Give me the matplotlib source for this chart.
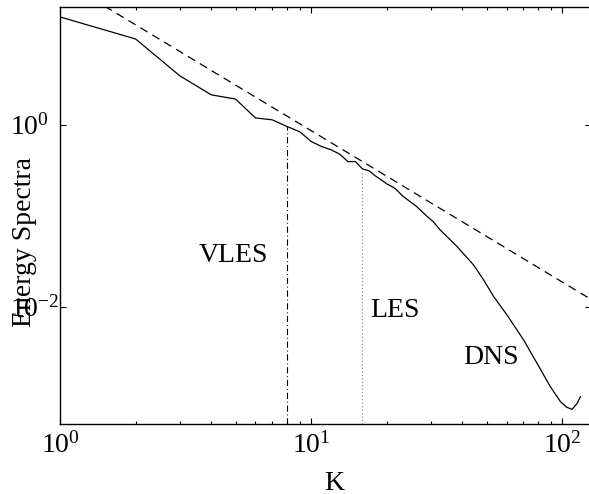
import matplotlib
matplotlib.use('Agg')
import matplotlib.pyplot as plt
from matplotlib.ticker import FixedLocator, LogLocator, NullFormatter, NullLocator

# energy spectrum
k = [1, 2, 3, 4, 5, 6, 7, 8, 9, 10, 11, 12, 13, 14, 15, 16, 17, 18, 19, 20,
     21.5, 23.3, 26.3, 28.5, 30.6, 32.6, 38.1, 44.3, 48.6, 53.3, 60.2, 70.1,
     79.3, 89.6, 98.3, 104, 109.3, 114.5, 118]
energy = [15.4, 8.8, 3.46, 2.14, 1.92, 1.19, 1.135, 0.96, 0.84, 0.655, 0.577,
          0.531, 0.475, 0.394, 0.394, 0.327, 0.312, 0.274, 0.248, 0.224,
          0.201, 0.162, 0.126, 0.102, 0.086, 0.0698, 0.0457, 0.0287, 0.0196,
          0.01285, 0.00807, 0.00429, 0.00237, 0.00131, 0.000897, 0.00078,
          0.00074, 0.00086, 0.00102]

# -5/3 reference line, two end points
ref_k = [1, 130]
ref_e = [40, 0.012]

# cut-off wavenumbers
vles_k = 8
les_k = 16

x_ticks = [1, 10, 100]
x_labels = [r'$10^{0}$', r'$10^{1}$', r'$10^{2}$']
y_ticks = [1e-2, 1e0]
y_labels = [r'$10^{-2}$', r'$10^{0}$']

regions = ['VLES', 'LES', 'DNS']
region_pos = [(3.56, 0.0312), (17.1, 0.00762), (40.2, 0.00233)]

plt.rcParams['font.family'] = ['Liberation Serif', 'DejaVu Serif']
plt.rcParams['mathtext.fontset'] = 'custom'
plt.rcParams['mathtext.rm'] = 'Liberation Serif'
plt.rcParams['mathtext.it'] = 'Liberation Serif:italic'
plt.rcParams['font.size'] = 20
plt.rcParams['lines.scale_dashes'] = False

fig = plt.figure(figsize=(5.89, 4.94), dpi=100)
ax = fig.add_axes([60 / 589, 1 - 424 / 494, 531 / 589, 417 / 494])

ymin, ymax = 5.1e-4, 19.8

ax.plot(k, energy, color='k', lw=0.9)
ax.plot(ref_k, ref_e, color='k', lw=0.9, dashes=(6, 4))

e_vles = energy[k.index(vles_k)]
e_les = energy[k.index(les_k)]
ax.plot([vles_k, vles_k], [ymin, e_vles], color='k', lw=0.8,
        dashes=(4.5, 2, 0.7, 2))
ax.plot([les_k, les_k], [ymin, e_les * 0.95], color='0.45', lw=0.8,
        dashes=(0.7, 1.8))

for name, (xx, yy) in zip(regions, region_pos):
    ax.text(xx, yy, name, ha='left', va='baseline', fontsize=20)

ax.set_xscale('log')
ax.set_yscale('log')
ax.set_xlim(1, 130)
ax.set_ylim(ymin, ymax)

ax.xaxis.set_major_locator(FixedLocator(x_ticks))
ax.set_xticklabels(x_labels)
ax.xaxis.set_minor_locator(LogLocator(base=10, subs=range(2, 10)))
ax.xaxis.set_minor_formatter(NullFormatter())
ax.yaxis.set_major_locator(FixedLocator(y_ticks))
ax.set_yticklabels(y_labels)
ax.yaxis.set_minor_locator(NullLocator())

ax.tick_params(which='both', direction='in', top=True, right=True,
               width=0.8, labelsize=20)
ax.tick_params(which='major', length=4.5)
ax.tick_params(which='minor', length=2.5)
ax.tick_params(axis='x', pad=6)
ax.tick_params(axis='y', pad=36)
for lab in ax.get_yticklabels():
    lab.set_horizontalalignment('left')

for sp in ax.spines.values():
    sp.set_linewidth(1.0)

ax.set_xlabel('K', fontsize=20)
ax.xaxis.set_label_coords((334 - 60) / 531, (424 - 471) / 417)
ax.set_ylabel('Energy Spectra', fontsize=20)
ax.yaxis.set_label_coords((37 - 60) / 531, (424 - 242) / 417)

fig.savefig('out.png', dpi=100)
